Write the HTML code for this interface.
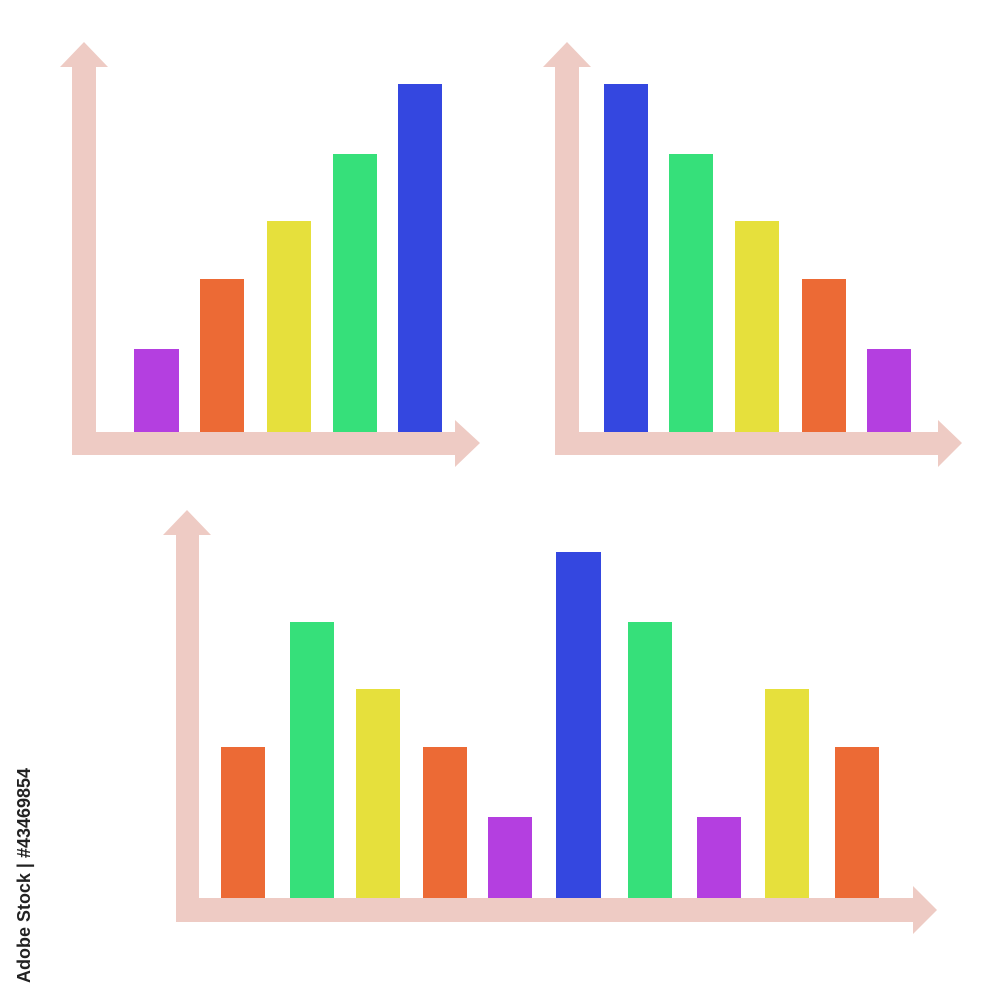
<!DOCTYPE html>
<html><head><meta charset="utf-8"><style>html,body{margin:0;padding:0;background:#fff}svg{display:block}</style></head>
<body>
<svg width="1000" height="1000" viewBox="0 0 1000 1000" xmlns="http://www.w3.org/2000/svg">
<rect width="1000" height="1000" fill="#fff"/>
<g fill="#eecbc4">
<polygon points="84,42 108,67 96,67 96,432 455,432 455,420 480,443 455,467 455,455 72,455 72,67 60,67"/>
<polygon points="567,42 591,67 579,67 579,432 938,432 938,420 962,443 938,467 938,455 555,455 555,67 543,67"/>
<polygon points="187,510 211,535 199,535 199,898 913,898 913,886 937,910 913,934 913,922 176,922 176,535 163,535"/>
</g>
<g>
<rect x="134" y="349" width="45" height="83" fill="#b43fe0"/>
<rect x="200" y="279" width="44" height="153" fill="#ec6a35"/>
<rect x="267" y="221" width="44" height="211" fill="#e6e03c"/>
<rect x="333" y="154" width="44" height="278" fill="#36e07a"/>
<rect x="398" y="84" width="44" height="348" fill="#3447e0"/>

<rect x="604" y="84" width="44" height="348" fill="#3447e0"/>
<rect x="669" y="154" width="44" height="278" fill="#36e07a"/>
<rect x="735" y="221" width="44" height="211" fill="#e6e03c"/>
<rect x="802" y="279" width="44" height="153" fill="#ec6a35"/>
<rect x="867" y="349" width="44" height="83" fill="#b43fe0"/>

<rect x="221" y="747" width="44" height="151" fill="#ec6a35"/>
<rect x="290" y="622" width="44" height="276" fill="#36e07a"/>
<rect x="356" y="689" width="44" height="209" fill="#e6e03c"/>
<rect x="423" y="747" width="44" height="151" fill="#ec6a35"/>
<rect x="488" y="817" width="44" height="81" fill="#b43fe0"/>
<rect x="556" y="552" width="45" height="346" fill="#3447e0"/>
<rect x="628" y="622" width="44" height="276" fill="#36e07a"/>
<rect x="697" y="817" width="44" height="81" fill="#b43fe0"/>
<rect x="765" y="689" width="44" height="209" fill="#e6e03c"/>
<rect x="835" y="747" width="44" height="151" fill="#ec6a35"/>
</g>
<text transform="translate(30,983) rotate(-90)" font-family="Liberation Sans, sans-serif" font-size="18" font-weight="bold" fill="#222" textLength="215" lengthAdjust="spacingAndGlyphs">Adobe Stock | #43469854</text>
</svg>
</body></html>
